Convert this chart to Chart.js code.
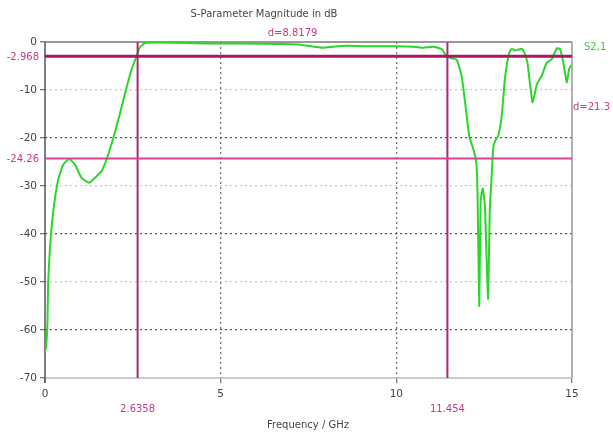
<!DOCTYPE html>
<html>
<head>
<meta charset="utf-8">
<script src="https://cdn.jsdelivr.net/npm/chart.js@4.4.0/dist/chart.umd.min.js"></script>
<style>
  html, body { margin: 0; padding: 0; background: #fff; }
  #wrap { width: 613px; height: 436px; position: relative; }
</style>
</head>
<body>
<div id="wrap"><canvas id="grafico"></canvas></div>
<script>
// S2,1 curve
var freq = [0, 0.03, 0.07, 0.09, 0.14, 0.19, 0.28, 0.38, 0.52, 0.69, 0.85, 1.04, 1.26, 1.42, 1.61, 1.76,
    1.94, 2.13, 2.31, 2.47, 2.61, 2.70, 2.85, 3.27, 4.0, 4.6, 5.5, 6.7, 7.2, 7.5, 7.9, 8.2, 8.6, 9.3,
    10.0, 10.5, 10.77, 11.05, 11.3, 11.42, 11.58, 11.72, 11.86, 11.96, 12.08, 12.19, 12.27, 12.31,
    12.36, 12.40, 12.46, 12.52, 12.61, 12.66, 12.72, 12.76, 12.83, 12.9, 13.0, 13.09, 13.19, 13.26,
    13.32, 13.38, 13.47, 13.56, 13.62, 13.73, 13.81, 13.88, 14.0, 14.14, 14.28, 14.42, 14.57, 14.66,
    14.75, 14.85, 14.92, 14.98];
var s21 = [-64.5, -63.7, -58.5, -50, -43, -38.4, -32.8, -28.6, -25.5, -24.4, -25.5, -28.3, -29.3, -28.3, -26.9, -24.3,
    -20.1, -15.0, -9.8, -5.6, -2.9, -1.1, -0.2, -0.1, -0.2, -0.3, -0.3, -0.4, -0.5, -0.8, -1.2, -1.0, -0.8, -0.9,
    -0.9, -1.0, -1.2, -1.0, -1.5, -2.9, -3.4, -3.7, -7.2, -12.8, -19.8, -22.3, -24.7, -31.0,
    -55.0, -33.0, -30.5, -34.0, -53.5, -35.0, -27.0, -21.9, -20.3, -19.6, -15.4, -7.7, -2.9, -1.6,
    -1.5, -1.8, -1.6, -1.4, -1.8, -4.2, -9.1, -12.6, -8.8, -7.0, -4.3, -3.6, -1.3, -1.5,
    -4.2, -8.4, -5.6, -4.8];

// marcadores
var marcadoresX = [2.6358, 11.454];
var marcadoresY = [-2.968, -24.26];
var etiquetasX = ["2.6358", "11.454"];
var etiquetasY = ["-2.968", "-24.26"];
var textoDeltaX = "d=8.8179";
var textoDeltaY = "d=21.3";

var fuente = "'DejaVu Sans', sans-serif";

var puntos = freq.map(function (f, i) { return { x: f, y: s21[i] }; });

function lineaV(v) { return [{ x: v, y: -70 }, { x: v, y: 0 }]; }
function lineaH(v) { return [{ x: 0, y: v }, { x: 15, y: v }]; }

var textos = { //dibuja titulos, bordes y etiquetas de marcadores
    id: 'textos',
    beforeDatasetsDraw: function (chart) {
        var ctx = chart.ctx, a = chart.chartArea;
        ctx.save();
        ctx.lineWidth = 1.5;
        ctx.strokeStyle = '#777';
        ctx.beginPath(); ctx.moveTo(a.left, a.top); ctx.lineTo(a.right, a.top); ctx.stroke();
        ctx.strokeStyle = '#999';
        ctx.beginPath(); ctx.moveTo(a.right, a.top); ctx.lineTo(a.right, a.bottom); ctx.stroke();
        ctx.strokeStyle = '#bbb';
        ctx.beginPath(); ctx.moveTo(a.left, a.bottom); ctx.lineTo(a.right, a.bottom); ctx.stroke();
        ctx.strokeStyle = '#555';
        ctx.beginPath(); ctx.moveTo(a.left, a.top); ctx.lineTo(a.left, a.bottom + 5); ctx.stroke();
        ctx.restore();
    },
    afterDraw: function (chart) {
        var ctx = chart.ctx, xs = chart.scales.x, ys = chart.scales.y, a = chart.chartArea;
        ctx.save();
        ctx.font = "10px " + fuente;
        ctx.fillStyle = '#444';
        ctx.textAlign = 'center';
        ctx.textBaseline = 'middle';
        ctx.fillText("S-Parameter Magnitude in dB", 264, 14);
        ctx.fillText("Frequency / GHz", 308, 425);

        ctx.fillStyle = '#c8388a';
        ctx.textAlign = 'right';
        marcadoresY.forEach(function (v, i) {
            ctx.fillText(etiquetasY[i], a.left - 6, ys.getPixelForValue(v) + 1);
        });
        ctx.textAlign = 'center';
        marcadoresX.forEach(function (v, i) {
            ctx.fillText(etiquetasX[i], xs.getPixelForValue(v), 409);
        });
        var medio = (marcadoresX[0] + marcadoresX[1]) / 2;
        ctx.fillText(textoDeltaX, xs.getPixelForValue(medio), 33);
        ctx.textAlign = 'left';
        ctx.fillText(textoDeltaY, a.right + 1, ys.getPixelForValue((marcadoresY[0] + marcadoresY[1]) / 2));
        ctx.fillStyle = '#33cc33';
        ctx.fillText("S2,1", a.right + 12, 47);
        ctx.restore();
    }
};

var popCanvas = document.getElementById("grafico");
var grafico = new Chart(popCanvas, {
    type: 'scatter',
    data: {
        datasets: [{
            data: lineaH(marcadoresY[1]),
            showLine: true, borderColor: '#d4458e', borderWidth: 2, pointRadius: 0
        }, {
            data: lineaH(marcadoresY[0]),
            showLine: true, borderColor: '#a8166a', borderWidth: 3, pointRadius: 0
        }, {
            data: lineaV(marcadoresX[0]),
            showLine: true, borderColor: '#a52a78', borderWidth: 2, pointRadius: 0
        }, {
            data: lineaV(marcadoresX[1]),
            showLine: true, borderColor: '#a52a78', borderWidth: 2, pointRadius: 0
        }, {
            label: 'S2,1',
            data: puntos,
            showLine: true,
            borderColor: '#2ad62a',
            borderWidth: 2,
            pointRadius: 0,
            tension: 0.15
        }]
    },
    options: {
        responsive: true,
        maintainAspectRatio: false,
        animation: false,
        layout: { padding: { top: 42, right: 41, left: 0, bottom: 0 } },
        plugins: { legend: { display: false }, tooltip: { enabled: false } },
        scales: {
            x: {
                type: 'linear', min: 0, max: 15,
                afterFit: function (s) { s.height = 58; },
                ticks: { stepSize: 5, color: '#444', font: { size: 10.5, family: fuente }, padding: 5, maxRotation: 0 },
                grid: {
                    color: function (c) { return (c.tick && (c.tick.value === 0 || c.tick.value === 15)) ? 'rgba(0,0,0,0)' : '#777'; },
                    tickColor: '#777', tickLength: 5, lineWidth: 1.3
                },
                border: { display: false, dash: [2, 3] }
            },
            y: {
                min: -70, max: 0,
                afterFit: function (s) { s.width = 45; },
                ticks: { stepSize: 10, color: '#444', font: { size: 10.5, family: fuente }, padding: 3 },
                grid: {
                    color: function (c) {
                        var v = c.tick ? c.tick.value : 0;
                        if (v === 0 || v === -70) return 'rgba(0,0,0,0)';
                        return (Math.abs(v) % 20 === 0) ? '#555' : '#c8c8c8';
                    },
                    tickColor: '#777', tickLength: 5, lineWidth: 1.3
                },
                border: { display: false, dash: [2, 3] }
            }
        }
    },
    plugins: [textos]
});
</script>
</body>
</html>
